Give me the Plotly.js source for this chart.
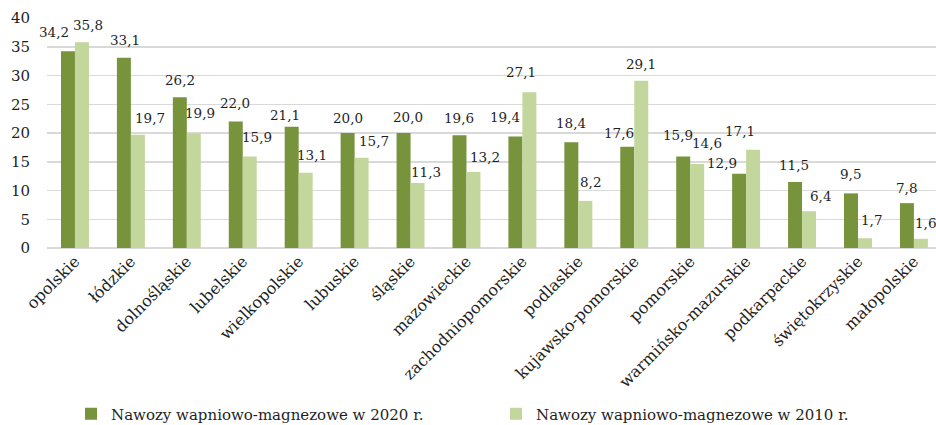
<!DOCTYPE html>
<html>
<head>
<meta charset="utf-8">
<script src="https://cdn.plot.ly/plotly-3.0.1.min.js"></script>
<style>html,body{margin:0;padding:0;background:#fff;overflow:hidden}</style>
</head>
<body>
<div id="chart" style="width:936px;height:425px"></div>
<script>
const categories = ["opolskie","łódzkie","dolnośląskie","lubelskie","wielkopolskie","lubuskie","śląskie","mazowieckie","zachodniopomorskie","podlaskie","kujawsko-pomorskie","pomorskie","warmińsko-mazurskie","podkarpackie","świętokrzyskie","małopolskie"];
const values2020 = [34.2,33.1,26.2,22.0,21.1,20.0,20.0,19.6,19.4,18.4,17.6,15.9,12.9,11.5,9.5,7.8];
const values2010 = [35.8,19.7,19.9,15.9,13.1,15.7,11.3,13.2,27.1,8.2,29.1,14.6,17.1,6.4,1.7,1.6];
const name2020 = "Nawozy wapniowo-magnezowe w 2020 r.";
const name2010 = "Nawozy wapniowo-magnezowe w 2010 r.";
const yTicks = [0,5,10,15,20,25,30,35,40];

// label nudges (style, px)
const labelDx2020 = [-14,1,0,-1,-7,0,4.5,0,-10,0,-8,-5,-17.5,-1,0,0];
const labelDy2020 = [19,18,17.7,18.7,11.7,15,16,17,19,19,14,21.7,10.7,17,19,15];
const labelDx2010 = [6.5,12,6.5,7,6,12,8,12,-8.5,5,0,10,-13.5,11,7,4.5];
const labelDy2010 = [17,17,20.7,19.4,18,17,11,15.6,20,19,17,20.7,19,15,18.7,16];

const fmt = v => v.toFixed(1).replace('.', ',');
const FONT = "'DejaVu Serif', 'Liberation Serif', serif";
const W = 936, H = 425;
const margin = {l:47, r:0, t:18, b:177, autoexpand:false};
const xRange = [-0.5, 15.395];
const plotW = W - margin.l - margin.r;
const catPx = plotW / (xRange[1] - xRange[0]);
const bargap = 0.5;
const halfBar = catPx * (1 - bargap) / 4;

const annotations = [];
categories.forEach((c, i) => {
  annotations.push({x:c, y:values2020[i], xref:'x', yref:'y', text:fmt(values2020[i]), showarrow:false,
    xshift:-halfBar + labelDx2020[i], yshift:labelDy2020[i], yanchor:'middle', xanchor:'center',
    font:{family:FONT, size:13.5, color:'#1f1f1f'}});
  annotations.push({x:c, y:values2010[i], xref:'x', yref:'y', text:fmt(values2010[i]), showarrow:false,
    xshift:halfBar + labelDx2010[i], yshift:labelDy2010[i], yanchor:'middle', xanchor:'center',
    font:{family:FONT, size:13.5, color:'#1f1f1f'}});
});

const data = [
  {type:'bar', x:categories, y:values2020, name:name2020, marker:{color:'#77933C'}, hoverinfo:'y'},
  {type:'bar', x:categories, y:values2010, name:name2010, marker:{color:'#C3D69B'}, hoverinfo:'y'}
];

const layout = {
  width:W, height:H, margin:margin,
  paper_bgcolor:'#fff', plot_bgcolor:'#fff',
  barmode:'group', bargap:bargap, bargroupgap:0,
  font:{family:FONT, color:'#262626'},
  xaxis:{type:'category', range:xRange, tickangle:-45, showgrid:false, zeroline:false,
    showline:false, ticks:'', tickfont:{family:FONT, size:16, color:'#1f1f1f'}, automargin:false},
  yaxis:{range:[0,40], tickvals:yTicks, ticktext:yTicks.map(String), showgrid:true, gridcolor:'#d9d9d9', gridwidth:1.5,
    zeroline:true, zerolinecolor:'#d9d9d9', zerolinewidth:2, showline:false, ticks:'', ticklabelstandoff:16,
    tickfont:{family:FONT, size:15, color:'#1f1f1f'}, automargin:false},
  showlegend:true,
  legend:{orientation:'h', x:0.027, y:-0.722, xanchor:'left', yanchor:'middle', entrywidth:380, entrywidthmode:'pixels',
    font:{family:FONT, size:15, color:'#1f1f1f'}, itemwidth:30, bgcolor:'rgba(0,0,0,0)'},
  annotations:annotations
};

Plotly.newPlot('chart', data, layout, {displayModeBar:false, staticPlot:true});
</script>
</body>
</html>
